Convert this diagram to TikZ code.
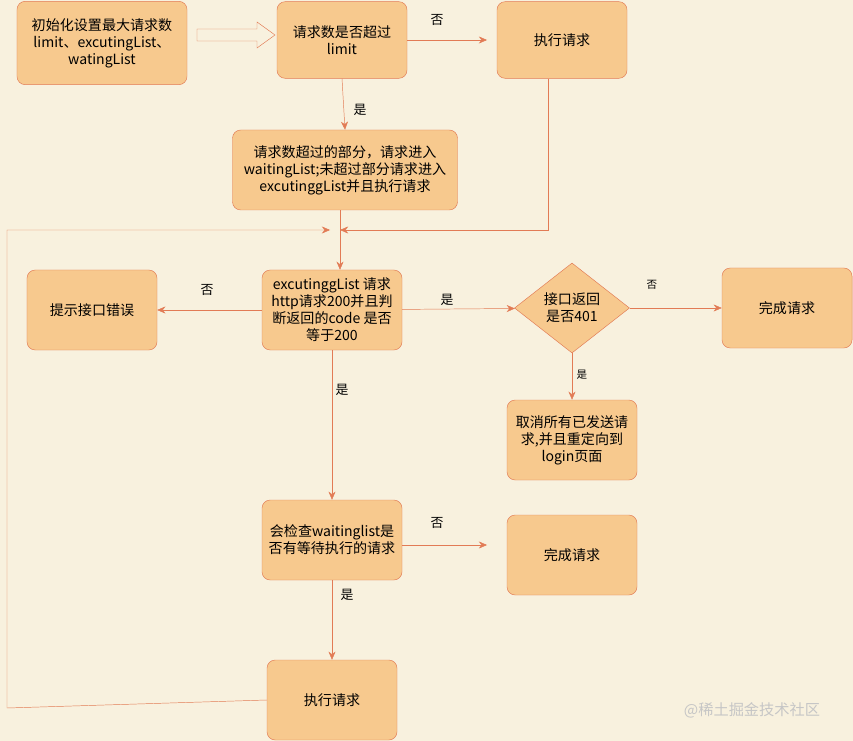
\documentclass[tikz,border=0pt]{standalone}
\usepackage{fontspec}
\setmainfont{Noto Sans CJK SC}
\usetikzlibrary{shapes.geometric,arrows.meta}
\definecolor{bgcol}{HTML}{F8F1DE}
\definecolor{boxfill}{HTML}{F7C98E}
\definecolor{linecol}{HTML}{E27B55}
\tikzset{
  box/.style={draw=linecol,fill=boxfill,rounded corners=7pt,minimum width=3.9cm,minimum height=2.4cm,align=center,font=\fontsize{12}{14.5}\selectfont,inner sep=2pt},
  dia/.style={diamond,draw=linecol,fill=boxfill,minimum width=3.45cm,minimum height=2.7cm,inner sep=0pt,align=center,font=\fontsize{12}{14.5}\selectfont,aspect=1.28},
  conn/.style={draw=linecol,-{Stealth[length=7pt,width=6pt]}},
  lbl/.style={font=\fontsize{11}{13}\selectfont}
}
\begin{document}
\begin{tikzpicture}[x=0.03cm,y=-0.03cm]
  \fill[bgcol] (0,0) rectangle (853,741);
  \useasboundingbox (0,0) rectangle (853,741);

  \node[box,minimum width=5.1cm,minimum height=2.5cm] (init) at (102,43) {初始化设置最大请求数\\limit、excutingList、\\watingList};
  \node[box,minimum height=2.3cm] (limit) at (342,40) {请求数是否超过\\limit};
  \node[box,minimum height=2.3cm] (exec1) at (562,40) {执行请求};
  \node[box,minimum width=6.75cm] (part) at (345,170) {请求数超过的部分，请求进入\\waitingList;未超过部分请求进入\\excutinggList并且执行请求};
  \node[box,minimum width=4.2cm] (check) at (332,310) {excutinggList 请求\\http请求200并且判\\断返回的code 是否\\等于200};
  \node[box] (err) at (92,310) {提示接口错误};
  \node[dia] (is401) at (572,308) {接口返回\\是否401};
  \node[box] (done1) at (787,308) {完成请求};
  \node[box] (cancel) at (572,440) {取消所有已发送请\\求,并且重定向到\\login页面};
  \node[box,minimum width=4.2cm] (wait) at (332,540) {会检查waitinglist是\\否有等待执行的请求};
  \node[box] (done2) at (572,555) {完成请求};
  \node[box] (exec2) at (332,700) {执行请求};
  \coordinate (join) at (340,230);

  % hollow arrow
  \draw[linecol,fill=bgcol] (197,29) -- (257,29) -- (257,22) -- (275,35) -- (257,48) -- (257,41) -- (197,41) -- cycle;

  \draw[conn] (limit) -- (487,40);
  \node[lbl] at (437,20) {否};
  \draw[conn] (limit.south) -- (part.north);
  \node[lbl] at (360,110) {是};
  \draw[conn] (exec1.south -| 548,0) -- (548,230) -- (join);
  \draw[conn] (exec2.west) -- (7,708) -- (7,230) -- (330,230);
  \draw[conn] (part.south -| join) -- (check.north -| join);
  \draw[conn] (check) -- (err);
  \node[lbl] at (207,290) {否};
  \draw[conn] (check) -- (is401);
  \node[lbl] at (447,300) {是};
  \draw[conn] (is401) -- (done1);
  \node[lbl,font=\fontsize{9}{11}\selectfont] at (652,285) {否};
  \draw[conn] (is401) -- (cancel);
  \node[lbl,font=\fontsize{9}{11}\selectfont] at (582,375) {是};
  \draw[conn] (check) -- (wait);
  \node[lbl] at (342,390) {是};
  \draw[conn] (wait.east |- 0,545) -- (487,545);
  \node[lbl] at (437,523) {否};
  \draw[conn] (wait) -- (exec2);
  \node[lbl] at (347,595) {是};

  \node[text=white!55!gray,font=\fontsize{13}{15}\selectfont] (mark) at (752,710) {@稀土掘金技术社区};
\end{tikzpicture}
\end{document}
